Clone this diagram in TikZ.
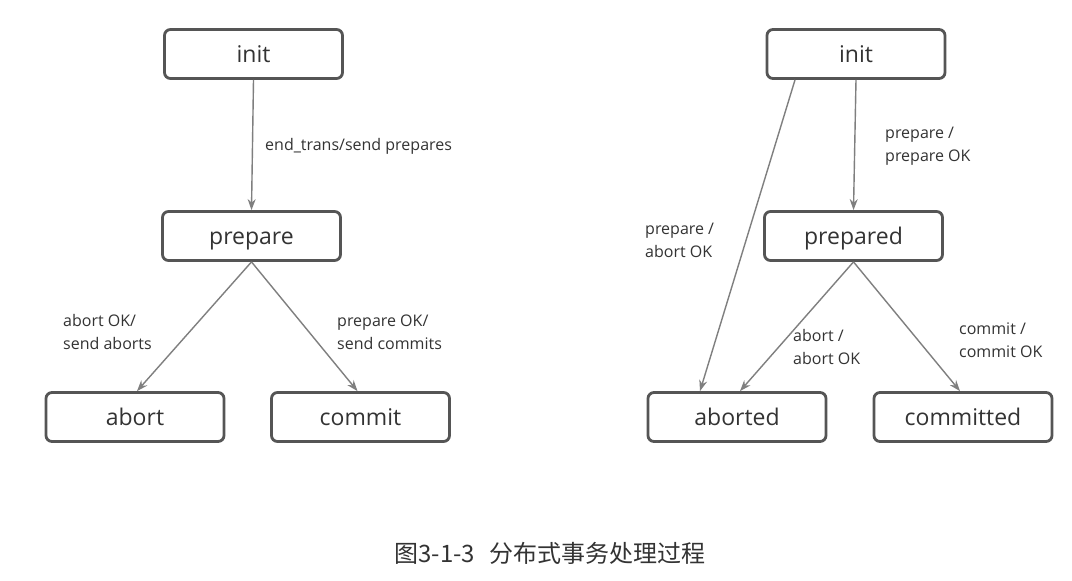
\documentclass[tikz,border=0pt]{standalone}
\usepackage{fontspec}
\setmainfont{Open Sans}
\newfontfamily\cjkfont{Noto Sans CJK SC}
\usetikzlibrary{arrows.meta}

\definecolor{boxline}{HTML}{555555}
\definecolor{pfeil}{HTML}{7F7F7F}
\definecolor{schrift}{HTML}{333333}

\tikzset{
	zustand/.style={draw=boxline, line width=2.8pt, rounded corners=6pt, fill=white,
		minimum width=178pt, minimum height=49pt, inner sep=0pt,
		text height=16pt, text depth=0pt,
		font=\fontsize{23}{26}\selectfont, text=schrift},
	uebergang/.style={draw=pfeil, line width=1.4pt, -{Stealth[length=11pt,width=8pt]}},
	beschr/.style={anchor=west, align=left, inner sep=0pt, text=schrift,
		font=\fontsize{16}{23}\selectfont}
}

\begin{document}
\begin{tikzpicture}[x=1pt,y=-1pt]
	\useasboundingbox[fill=white] (0,0) rectangle (1072,581);

	% Koordinator (links)
	\node[zustand] (init) at (253.5,54) {init};
	\node[zustand] (prepare) at (251.5,236) {prepare};
	\node[zustand] (abort) at (135,417) {abort};
	\node[zustand] (commit) at (360.5,417) {commit};

	\draw[uebergang] (init.south) -- (prepare.north);
	\draw[uebergang] (prepare.south) -- ([xshift=2pt]abort.north);
	\draw[uebergang] (prepare.south) -- ([xshift=-3pt]commit.north);

	\node[beschr] (lEnd) at (265,146) {end\_trans/send prepares};
	\node[beschr] (lAbort) at (63,332) {abort OK/\\send aborts};
	\node[beschr] (lCommit) at (337,332) {prepare OK/\\send commits};

	% Teilnehmer (rechts)
	\node[zustand] (initR) at (856,54) {init};
	\node[zustand] (prepared) at (853.5,236) {prepared};
	\node[zustand] (aborted) at (737,417) {aborted};
	\node[zustand] (committed) at (963,417) {committed};

	\draw[uebergang] (initR.south) -- (prepared.north);
	\draw[uebergang] ([xshift=-61pt]initR.south) -- ([xshift=-37pt]aborted.north);
	\draw[uebergang] (prepared.south) -- ([xshift=3pt]aborted.north);
	\draw[uebergang] (prepared.south) -- ([xshift=-3pt]committed.north);

	\node[beschr] (rPrep) at (885,146) {prepare /\\prepare OK};
	\node[beschr] (rAbortOk) at (645,240) {prepare /\\abort OK};
	\node[beschr] (rAbort) at (793,347) {abort /\\abort OK};
	\node[beschr] (rCommit) at (959,340) {commit /\\commit OK};

	% Bildunterschrift
	\node[text=schrift, font=\fontsize{24}{28}\selectfont] (titel) at (550,553)
		{\cjkfont 图3-1-3\hspace{0.6em}分布式事务处理过程};
\end{tikzpicture}
\end{document}
